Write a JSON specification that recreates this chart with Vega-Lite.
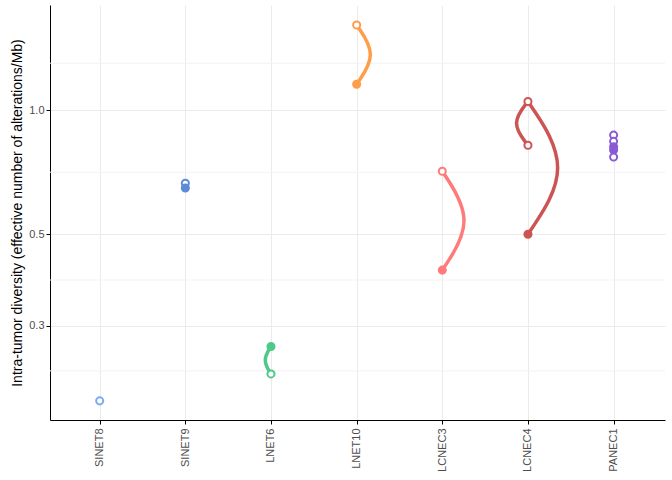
{
  "$schema": "https://vega.github.io/schema/vega-lite/v6.json",
  "width": 615,
  "height": 415,
  "autosize": "none",
  "padding": {"left": 50, "top": 5, "right": 7, "bottom": 60},
  "background": "white",
  "config": {"view": {"stroke": null}, "font": "Liberation Sans"},
  "datasets": {
    "pts": [
      {"sample": "SINET8", "x": 1, "value": 0.197, "open": true},
      {"sample": "SINET9", "x": 2, "value": 0.665, "open": true},
      {"sample": "SINET9", "x": 2, "value": 0.647, "open": false},
      {"sample": "LNET6", "x": 3, "value": 0.267, "open": false},
      {"sample": "LNET6", "x": 3, "value": 0.229, "open": true},
      {"sample": "LNET10", "x": 4, "value": 1.61, "open": true},
      {"sample": "LNET10", "x": 4, "value": 1.156, "open": false},
      {"sample": "LCNEC3", "x": 5, "value": 0.711, "open": true},
      {"sample": "LCNEC3", "x": 5, "value": 0.409, "open": false},
      {"sample": "LCNEC4", "x": 6, "value": 1.05, "open": true},
      {"sample": "LCNEC4", "x": 6, "value": 0.822, "open": true},
      {"sample": "LCNEC4", "x": 6, "value": 0.5, "open": false},
      {"sample": "PANEC1", "x": 7, "value": 0.87, "open": true},
      {"sample": "PANEC1", "x": 7, "value": 0.84, "open": true},
      {"sample": "PANEC1", "x": 7, "value": 0.815, "open": false},
      {"sample": "PANEC1", "x": 7, "value": 0.8, "open": false},
      {"sample": "PANEC1", "x": 7, "value": 0.77, "open": true}
    ],
    "curves": [
      {"sample": "LNET6", "curve": "a", "o": 1, "x": 3, "value": 0.267},
      {"sample": "LNET6", "curve": "a", "o": 2, "x": 2.9, "value": 0.247},
      {"sample": "LNET6", "curve": "a", "o": 3, "x": 3, "value": 0.229},
      {"sample": "LNET10", "curve": "b", "o": 1, "x": 4, "value": 1.61},
      {"sample": "LNET10", "curve": "b", "o": 2, "x": 4.24, "value": 1.364},
      {"sample": "LNET10", "curve": "b", "o": 3, "x": 4, "value": 1.156},
      {"sample": "LCNEC3", "curve": "c", "o": 1, "x": 5, "value": 0.711},
      {"sample": "LCNEC3", "curve": "c", "o": 2, "x": 5.38, "value": 0.539},
      {"sample": "LCNEC3", "curve": "c", "o": 3, "x": 5, "value": 0.409},
      {"sample": "LCNEC4", "curve": "d", "o": 1, "x": 6, "value": 1.05},
      {"sample": "LCNEC4", "curve": "d", "o": 2, "x": 6.52, "value": 0.725},
      {"sample": "LCNEC4", "curve": "d", "o": 3, "x": 6, "value": 0.5},
      {"sample": "LCNEC4", "curve": "e", "o": 1, "x": 6, "value": 1.05},
      {"sample": "LCNEC4", "curve": "e", "o": 2, "x": 5.8, "value": 0.929},
      {"sample": "LCNEC4", "curve": "e", "o": 3, "x": 6, "value": 0.822}
    ],
    "minor": [{"v": 0.233}, {"v": 0.387}, {"v": 0.707}, {"v": 1.3}]
  },
  "encoding": {
    "x": {
      "field": "x", "type": "quantitative",
      "scale": {"domain": [0.42, 7.6], "nice": false, "zero": false},
      "axis": {
        "values": [1, 2, 3, 4, 5, 6, 7], "title": null,
        "labelExpr": "['SINET8','SINET9','LNET6','LNET10','LCNEC3','LCNEC4','PANEC1'][datum.value-1]",
        "labelAngle": -90, "labelAlign": "right", "labelBaseline": "middle",
        "labelColor": "#4d4d4d", "labelFontSize": 11, "labelPadding": 4,
        "domainColor": "black", "tickColor": "black", "tickSize": 4,
        "grid": true, "gridColor": "#ebebeb"
      }
    },
    "y": {
      "type": "quantitative",
      "scale": {"type": "log", "domain": [0.177, 1.8], "nice": false},
      "axis": {
        "values": [0.3, 0.5, 1.0], "format": ".1f",
        "title": "Intra-tumor diversity (effective number of alterations/Mb)",
        "titleFontSize": 14, "titleFontWeight": "normal", "titleColor": "black",
        "labelColor": "#4d4d4d", "labelFontSize": 11,
        "domainColor": "black", "tickColor": "black", "tickSize": 4,
        "grid": true, "gridColor": "#ebebeb"
      }
    },
    "color": {
      "field": "sample", "type": "nominal", "legend": null,
      "scale": {
        "domain": ["SINET8", "SINET9", "LNET6", "LNET10", "LCNEC3", "LCNEC4", "PANEC1"],
        "range": ["#7aaaf7", "#5b8bd9", "#4fc98a", "#ff9e4a", "#ff7b7b", "#cd5454", "#8a5ad6"]
      }
    }
  },
  "layer": [
    {
      "data": {"name": "minor"},
      "mark": {"type": "rule", "color": "#f3f3f3", "strokeWidth": 1},
      "encoding": {"y": {"field": "v", "type": "quantitative"}, "x": null, "color": null}
    },
    {
      "data": {"name": "curves"},
      "mark": {"type": "line", "interpolate": "basis", "strokeWidth": 3.5},
      "encoding": {
        "y": {"field": "value"},
        "detail": {"field": "curve"},
        "order": {"field": "o"}
      }
    },
    {
      "data": {"name": "pts"},
      "mark": {"type": "point", "filled": true, "size": 50, "strokeWidth": 2, "opacity": 1},
      "encoding": {
        "y": {"field": "value"},
        "stroke": {"field": "sample", "type": "nominal", "legend": null,
          "scale": {
            "domain": ["SINET8", "SINET9", "LNET6", "LNET10", "LCNEC3", "LCNEC4", "PANEC1"],
            "range": ["#7aaaf7", "#5b8bd9", "#4fc98a", "#ff9e4a", "#ff7b7b", "#cd5454", "#8a5ad6"]
          }},
        "fill": {"condition": {"test": "datum.open", "value": "white"}, "field": "sample", "type": "nominal", "legend": null,
          "scale": {
            "domain": ["SINET8", "SINET9", "LNET6", "LNET10", "LCNEC3", "LCNEC4", "PANEC1"],
            "range": ["#7aaaf7", "#5b8bd9", "#4fc98a", "#ff9e4a", "#ff7b7b", "#cd5454", "#8a5ad6"]
          }}
      }
    }
  ]
}
